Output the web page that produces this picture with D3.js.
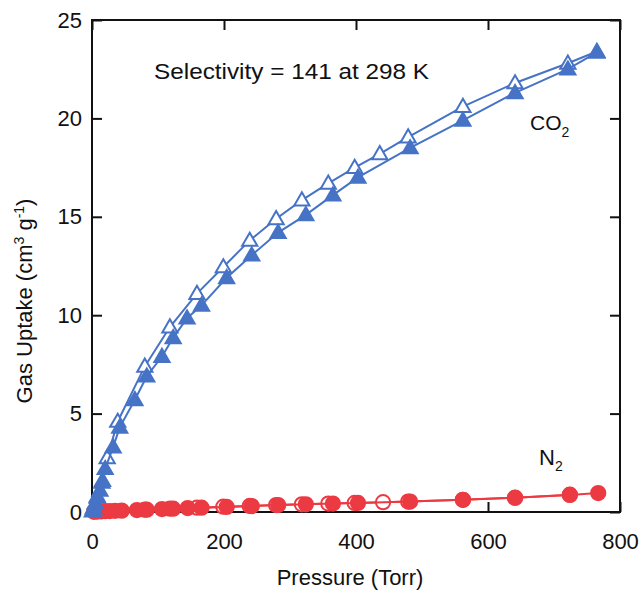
<!DOCTYPE html>
<html>
  <head>
    <script src="https://cdn.jsdelivr.net/npm/d3@7"></script>
    <style>
      body { margin: 0; background: #fff; }
      text { font-family: "Liberation Sans", Arial, sans-serif; fill: #111; }
    </style>
  </head>
  <body>
    <script>
      WIDTH = 640
      HEIGHT = 591
      LEFT = 92
      RIGHT = 620
      TOP = 20
      BOTTOM = 512

      // CO2 adsorption (filled) and desorption (open)
      var co2AdsP = [0.5, 2, 5, 8, 12, 16, 20, 32, 42, 65, 83, 106, 123, 144, 166, 204, 242, 282, 324, 365, 403, 482, 562, 641, 721, 765]
      var co2AdsV = [0.05, 0.2, 0.45, 0.75, 1.1, 1.6, 2.2, 3.3, 4.3, 5.7, 6.9, 7.9, 8.85, 9.85, 10.5, 11.9, 13.05, 14.2, 15.1, 16.1, 17.0, 18.5, 19.9, 21.3, 22.5, 23.35]
      var co2DesP = [765, 721, 641, 562, 479, 436, 398, 358, 318, 279, 239, 199, 159, 118, 80, 39, 23, 15, 8, 3]
      var co2DesV = [23.4, 22.8, 21.8, 20.6, 19.05, 18.2, 17.5, 16.7, 15.85, 14.9, 13.8, 12.45, 11.1, 9.4, 7.4, 4.6, 2.75, 1.5, 0.8, 0.2]

      // N2 adsorption (filled) and desorption (open)
      var n2AdsP = [3, 8, 14, 20, 27, 35, 45, 68, 83, 106, 123, 145, 166, 204, 242, 282, 324, 365, 403, 482, 562, 641, 724, 767]
      var n2AdsV = [0.01, 0.02, 0.03, 0.04, 0.05, 0.06, 0.07, 0.1, 0.12, 0.15, 0.17, 0.2, 0.22, 0.26, 0.3, 0.35, 0.39, 0.43, 0.46, 0.53, 0.62, 0.72, 0.87, 0.96]
      var n2DesP = [724, 641, 562, 479, 441, 398, 358, 318, 279, 239, 199, 159, 118, 80]
      var n2DesV = [0.88, 0.73, 0.62, 0.53, 0.5, 0.46, 0.43, 0.39, 0.35, 0.31, 0.27, 0.22, 0.17, 0.12]

      var xTicks = [0, 200, 400, 600, 800]
      var yTicks = [0, 5, 10, 15, 20, 25]

      var BLUE = "#4673c6"
      var RED = "#ec3a42"

      var svg = d3.select("body").append("svg")
        .attr("width", WIDTH)
        .attr("height", HEIGHT)

      var x = d3.scaleLinear().domain([0, 800]).range([LEFT, RIGHT])
      var y = d3.scaleLinear().domain([0, 25]).range([BOTTOM, TOP])

      function pts(ps, vs) {
        return ps.map(function(p, i) { return [p, vs[i]] })
      }

      var line = d3.line()
        .x(function(d) { return x(d[0]) })
        .y(function(d) { return y(d[1]) })

      // axes with inward ticks on all four sides
      function styleAxis(g) {
        g.selectAll("path").remove()
        g.selectAll("line").attr("stroke", "#111").attr("stroke-width", 2)
        g.selectAll("text").style("font-size", "22px").attr("fill", "#111")
      }
      svg.append("g").attr("transform", "translate(0," + BOTTOM + ")")
        .call(d3.axisBottom(x).tickValues(xTicks).tickSize(-10).tickPadding(21))
        .call(styleAxis)
      svg.append("g").attr("transform", "translate(0," + TOP + ")")
        .call(d3.axisTop(x).tickValues(xTicks).tickSize(-10).tickFormat(""))
        .call(styleAxis)
      svg.append("g").attr("transform", "translate(" + LEFT + ",0)")
        .call(d3.axisLeft(y).tickValues(yTicks).tickSize(-10).tickPadding(10))
        .call(styleAxis)
      svg.append("g").attr("transform", "translate(" + RIGHT + ",0)")
        .call(d3.axisRight(y).tickValues(yTicks).tickSize(-10).tickFormat(""))
        .call(styleAxis)

      // frame
      svg.append("rect")
        .attr("x", LEFT).attr("y", TOP)
        .attr("width", RIGHT - LEFT).attr("height", BOTTOM - TOP)
        .attr("fill", "none").attr("stroke", "#111").attr("stroke-width", 2)

      var tri = d3.symbol().type(d3.symbolTriangle).size(100)
      var circ = d3.symbol().type(d3.symbolCircle).size(160)

      function series(data, color, sym, filled) {
        svg.append("path").datum(data)
          .attr("d", line)
          .attr("fill", "none").attr("stroke", color).attr("stroke-width", 2)
        svg.append("g").selectAll("path").data(data).enter().append("path")
          .attr("d", sym)
          .attr("transform", function(d) { return "translate(" + x(d[0]) + "," + (y(d[1]) + (sym === tri ? 1 : 0)) + ")" })
          .attr("fill", filled ? color : "#fff")
          .attr("stroke", color).attr("stroke-width", 2)
      }

      series(pts(n2DesP, n2DesV), RED, circ, false)
      series(pts(n2AdsP, n2AdsV), RED, circ, true)
      series(pts(co2DesP, co2DesV), BLUE, tri, false)
      series(pts(co2AdsP, co2AdsV), BLUE, tri, true)

      // annotations
      svg.append("text").attr("x", 154).attr("y", 79)
        .attr("textLength", 275).attr("lengthAdjust", "spacingAndGlyphs")
        .style("font-size", "22px").text("Selectivity = 141 at 298 K")

      var co2 = svg.append("text").attr("x", 530).attr("y", 130).style("font-size", "21px")
      co2.append("tspan").text("CO")
      co2.append("tspan").attr("dy", 7).style("font-size", "14px").text("2")

      var n2 = svg.append("text").attr("x", 539).attr("y", 465).style("font-size", "22px")
      n2.append("tspan").text("N")
      n2.append("tspan").attr("dy", 6).style("font-size", "14px").text("2")

      // axis titles
      svg.append("text").attr("x", (LEFT + RIGHT) / 2 - 6).attr("y", 585)
        .attr("text-anchor", "middle").style("font-size", "22px").text("Pressure (Torr)")

      var yl = svg.append("text")
        .attr("transform", "translate(32,301) rotate(-90)")
        .attr("text-anchor", "middle").style("font-size", "22px")
      yl.append("tspan").text("Gas Uptake (cm")
      yl.append("tspan").attr("dy", -8).style("font-size", "14px").text("3")
      yl.append("tspan").attr("dy", 8).text(" g")
      yl.append("tspan").attr("dy", -8).style("font-size", "14px").text("-1")
      yl.append("tspan").attr("dy", 8).text(")")
    </script>
  </body>
</html>
